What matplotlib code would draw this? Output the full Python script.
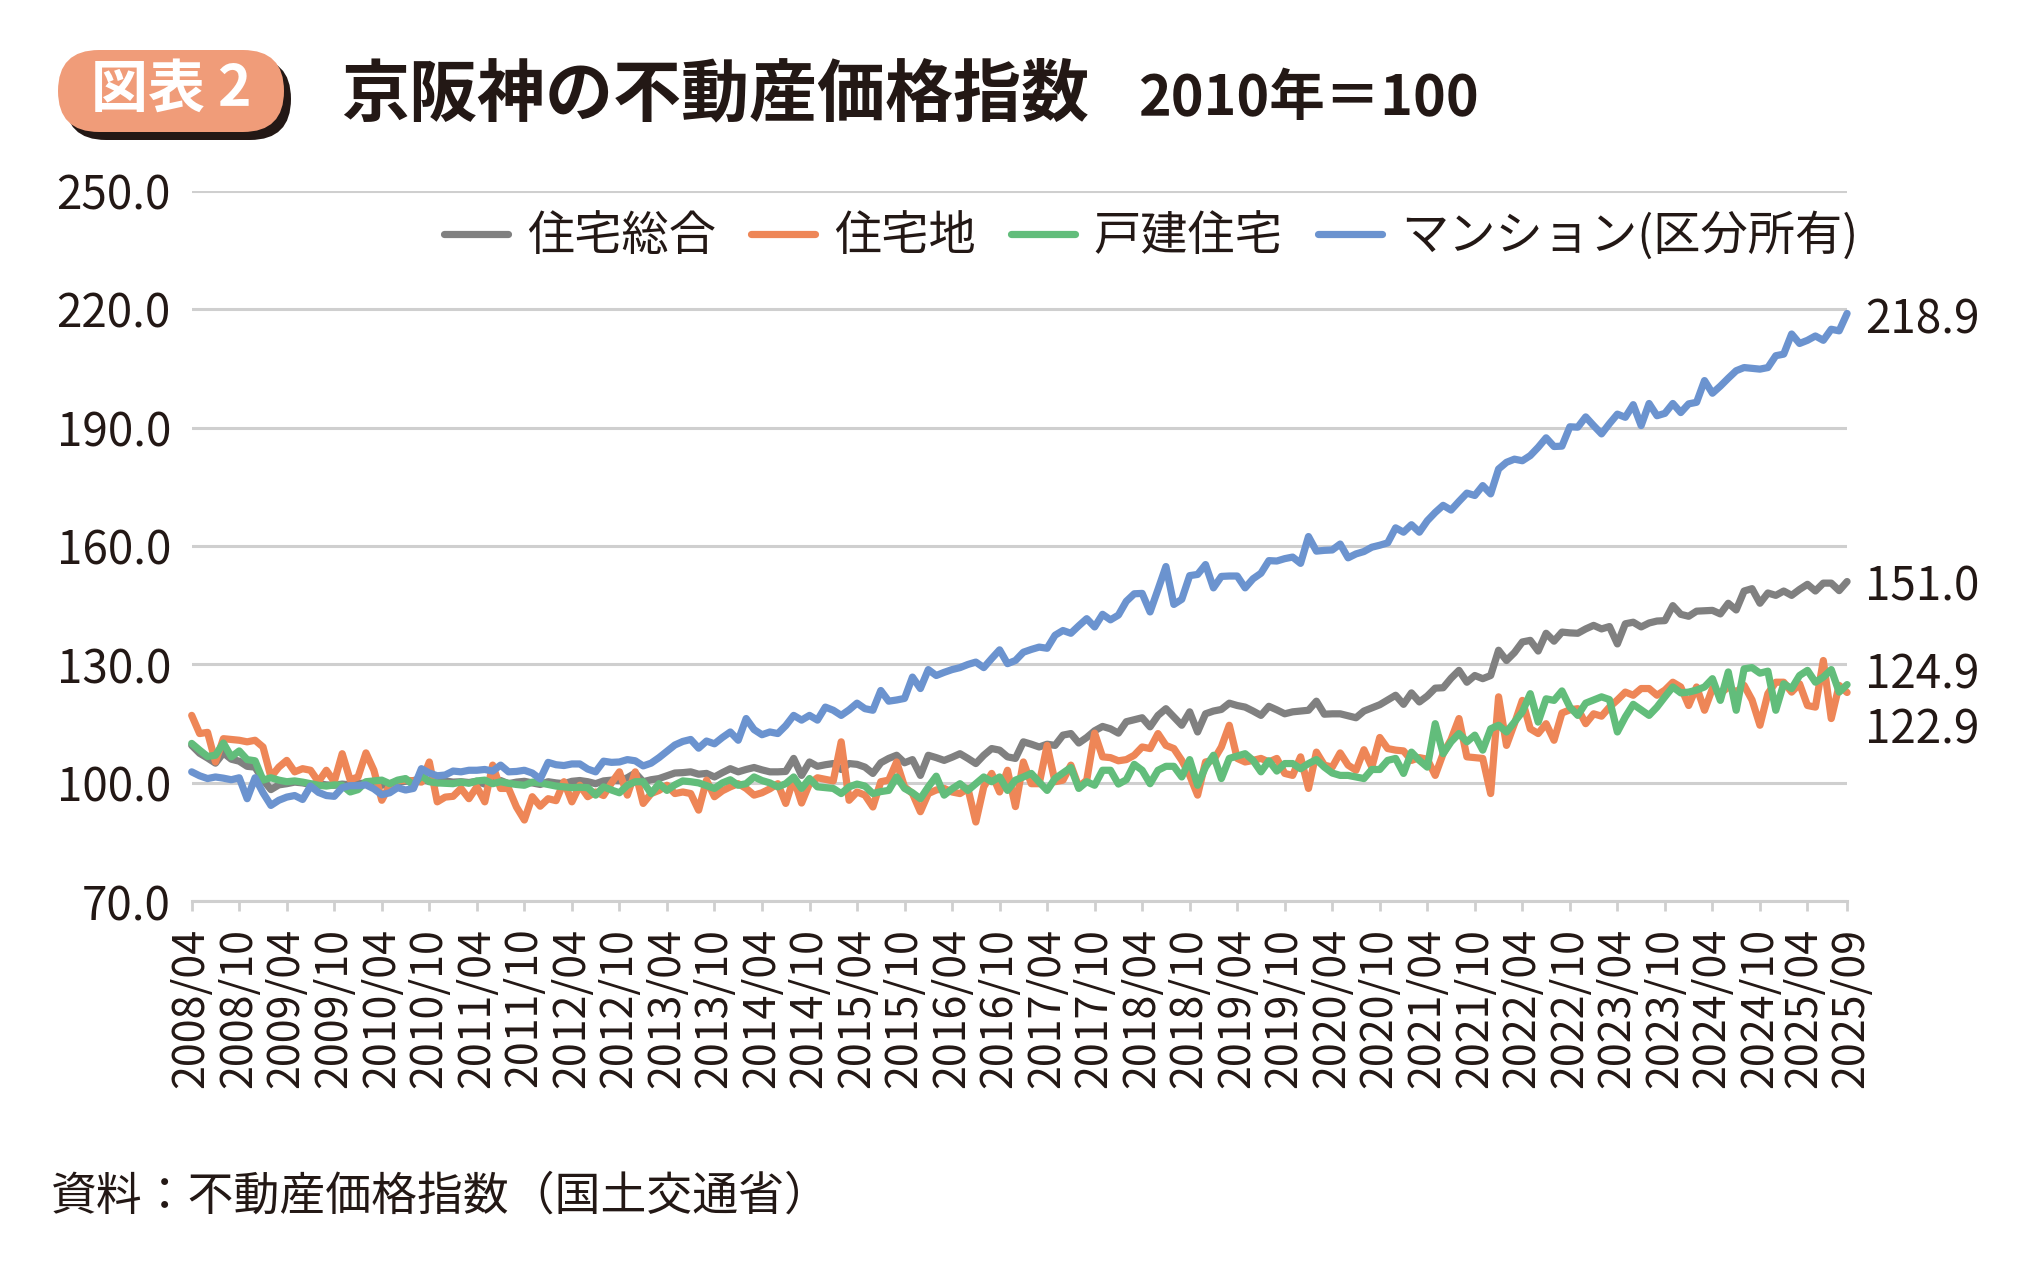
import matplotlib
matplotlib.use("Agg")
import matplotlib.pyplot as plt
import matplotlib.transforms as mtransforms
from matplotlib.patches import FancyBboxPatch

plt.rcParams['font.family'] = ['Noto Sans CJK JP', 'DejaVu Sans']

# 系列名と色（凡例の順）
series_names = ["住宅総合", "住宅地", "戸建住宅", "マンション(区分所有)"]
series_colors = ["#808080", "#EE8657", "#62BD7B", "#6B93CF"]
text_color = "#231815"
grid_color = "#CFCFCF"

# 月次データ 2008/04 - 2025/09（行ごとに暦年）
total = [
    109.5, 107.5, 106.3, 105.0, 107.6, 106.0, 105.5, 104.2, 104.0,
    100.8, 98.3, 99.5, 99.8, 100.2, 100.0, 99.6, 99.8, 99.5, 99.4, 99.7, 99.5,
    99.8, 100.0, 99.6, 99.4, 99.8, 100.2, 100.4, 100.6, 101.0, 100.4, 100.0, 100.5,
    100.2, 100.3, 100.1, 100.4, 99.7, 100.2, 100.6, 99.8, 100.2, 100.4, 100.0, 99.6,
    100.3, 100.0, 99.8, 100.4, 100.6, 100.3, 99.8, 100.5, 100.7, 100.6, 101.3, 102.5,
    100.3, 100.8, 101.1, 101.8, 102.5, 102.6, 102.8, 102.2, 102.4, 101.5, 102.6, 103.6,
    102.8, 103.4, 103.9, 103.3, 102.8, 102.8, 102.9, 106.2, 101.9, 105.3, 104.2, 104.6,
    104.9, 103.4, 104.9, 104.7, 104.0, 102.4, 105.1, 106.2, 107.0, 105.1, 105.9, 101.9,
    107.0, 106.4, 105.7, 106.5, 107.4, 106.2, 104.9, 107.0, 108.7, 108.3, 106.6, 106.2,
    110.4, 109.8, 109.1, 109.8, 109.5, 112.1, 112.5, 110.1, 111.5, 113.2, 114.3, 113.7,
    112.6, 115.5, 116.0, 116.5, 114.2, 117.1, 118.8, 116.7, 114.6, 118.0, 112.9, 117.5,
    118.2, 118.6, 120.2, 119.6, 119.2, 118.2, 117.1, 119.4, 118.5, 117.5, 118.0, 118.2,
    118.4, 120.7, 117.4, 117.5, 117.5, 117.0, 116.5, 118.2, 119.0, 119.8, 121.0, 122.2,
    119.9, 122.8, 120.5, 122.0, 124.0, 124.1, 126.5, 128.5, 125.5, 127.2, 126.4, 127.2,
    133.6, 131.0, 133.0, 135.7, 136.1, 133.4, 137.9, 135.9, 138.2, 138.0, 137.9, 139.0,
    139.9, 139.0, 139.6, 135.2, 140.3, 140.7, 139.5, 140.5, 141.0, 141.1, 144.9, 142.7,
    142.2, 143.5, 143.6, 143.7, 142.8, 145.5, 143.8, 148.6, 149.2, 145.5, 148.1, 147.5,
    148.6, 147.5, 149.0, 150.3, 148.6, 150.6, 150.6, 148.7, 151.0,
]
land = [
    117.1, 112.5, 112.8, 105.3, 111.2, 111.0, 110.8, 110.4, 110.8,
    109.1, 101.5, 104.0, 105.7, 102.8, 103.6, 103.2, 100.3, 103.2, 100.3, 107.4, 100.8,
    101.5, 107.6, 103.2, 95.6, 99.4, 100.5, 100.7, 100.5, 100.2, 105.3, 95.2, 96.4,
    96.6, 98.6, 96.0, 99.0, 95.2, 104.5, 98.6, 98.6, 93.9, 90.6, 96.5, 94.1,
    96.0, 95.5, 100.3, 95.2, 99.4, 96.5, 97.7, 96.8, 100.0, 102.8, 96.9, 102.8,
    94.8, 97.3, 98.1, 99.4, 97.3, 97.7, 97.3, 93.1, 100.7, 96.5, 98.0, 99.0,
    99.8, 98.6, 96.9, 97.5, 98.5, 99.8, 94.8, 101.1, 94.9, 99.8, 101.3, 100.9,
    100.5, 110.4, 95.6, 97.7, 96.9, 93.9, 100.3, 100.7, 105.3, 99.0, 97.3, 92.7,
    97.3, 98.2, 98.6, 97.7, 97.3, 98.6, 90.1, 99.0, 102.4, 97.7, 103.2, 94.0,
    105.3, 99.8, 99.8, 109.5, 100.3, 100.7, 104.5, 99.0, 100.7, 112.6, 106.6, 106.4,
    105.6, 105.9, 107.0, 109.1, 108.7, 112.5, 109.5, 108.7, 105.7, 101.9, 96.9, 105.3,
    105.7, 109.1, 114.6, 106.2, 105.3, 105.7, 106.2, 105.3, 106.2, 102.4, 101.9, 106.6,
    98.6, 107.8, 104.5, 104.0, 107.6, 104.5, 103.2, 108.4, 104.0, 111.5, 108.7, 108.3,
    108.1, 105.7, 106.4, 106.0, 101.9, 107.4, 111.0, 116.3, 106.6, 106.4, 106.2, 97.3,
    121.8, 109.5, 115.0, 120.9, 113.7, 112.5, 115.0, 110.8, 117.7, 118.5, 118.8, 115.0,
    117.5, 116.9, 119.2, 121.0, 123.0, 122.2, 123.9, 123.9, 122.2, 123.5, 125.5, 124.3,
    119.6, 124.3, 118.4, 123.9, 122.6, 124.3, 123.0, 124.7, 121.0, 114.6, 122.6, 125.5,
    125.5, 123.0, 125.1, 119.6, 119.2, 131.0, 116.3, 124.7, 122.9,
]
house = [
    110.0, 108.3, 106.7, 107.0, 110.1, 106.6, 108.1, 105.9, 105.6,
    100.7, 101.3, 100.7, 100.3, 100.5, 100.2, 99.8, 99.4, 99.2, 99.5, 99.4, 97.7,
    98.3, 100.3, 100.5, 100.7, 99.8, 100.7, 101.1, 99.4, 101.9, 100.3, 100.0, 99.9,
    99.8, 100.2, 99.9, 100.5, 100.7, 99.8, 100.3, 99.9, 99.6, 99.4, 100.2, 100.0,
    99.6, 99.2, 99.0, 98.8, 98.9, 98.8, 96.9, 99.0, 98.2, 97.5, 99.4, 100.3,
    100.3, 97.3, 99.8, 98.1, 99.5, 100.5, 100.3, 100.0, 99.3, 98.6, 100.0, 100.8,
    99.4, 99.8, 101.5, 100.6, 100.0, 99.0, 99.8, 101.5, 98.6, 101.1, 99.0, 98.8,
    98.6, 97.3, 99.0, 99.7, 99.2, 97.3, 97.8, 98.1, 101.5, 98.6, 97.5, 96.0,
    99.0, 101.7, 96.9, 98.5, 99.8, 98.1, 99.8, 101.5, 100.3, 101.5, 98.1, 100.7,
    101.5, 102.4, 100.2, 98.1, 101.1, 102.5, 103.9, 98.6, 100.3, 99.4, 103.2, 103.2,
    99.7, 100.8, 104.7, 103.2, 99.8, 103.2, 104.2, 104.2, 101.5, 105.9, 99.4, 104.0,
    107.0, 101.1, 106.2, 106.8, 107.4, 105.7, 102.8, 105.6, 103.0, 104.9, 104.9, 103.6,
    104.9, 105.9, 104.0, 102.5, 101.9, 101.9, 101.5, 101.1, 103.4, 103.4, 105.7, 106.2,
    102.4, 107.8, 105.7, 104.0, 115.0, 107.4, 110.4, 112.5, 110.4, 112.1, 108.3, 113.7,
    114.6, 112.9, 115.4, 118.0, 122.6, 115.4, 121.3, 120.9, 123.3, 119.2, 117.1, 120.2,
    121.0, 121.8, 121.1, 112.9, 116.7, 119.9, 118.5, 117.1, 119.2, 121.8, 124.3, 122.8,
    123.0, 123.5, 124.3, 126.4, 120.9, 128.1, 118.4, 128.9, 129.2, 127.8, 128.3, 118.4,
    125.1, 123.9, 127.2, 128.5, 125.5, 126.8, 128.7, 123.0, 124.9,
]
condo = [
    102.8, 101.8, 101.1, 101.5, 101.2, 100.8, 101.3, 96.0, 101.3,
    97.5, 94.3, 95.6, 96.4, 96.8, 95.8, 99.2, 97.6, 96.8, 96.6, 98.8, 99.3,
    99.3, 99.5, 98.5, 97.0, 97.5, 98.8, 98.2, 98.6, 103.6, 102.5, 101.8, 102.0,
    103.0, 102.8, 103.2, 103.2, 103.4, 103.0, 104.5, 102.8, 102.9, 103.2, 102.5, 101.0,
    105.2, 104.6, 104.4, 104.8, 104.8, 103.5, 102.8, 105.5, 105.2, 105.3, 105.9, 105.6,
    104.3, 105.0, 106.4, 108.0, 109.6, 110.5, 111.0, 108.8, 110.6, 109.9, 111.5, 112.9,
    110.8, 116.3, 113.5, 112.2, 112.9, 112.5, 114.5, 117.1, 115.9, 117.1, 115.9, 119.2,
    118.4, 117.1, 118.5, 120.2, 118.8, 118.4, 123.4, 120.7, 121.0, 121.4, 126.8, 123.9,
    128.7, 127.2, 128.0, 128.7, 129.2, 130.0, 130.6, 129.2, 131.5, 133.7, 130.2, 131.0,
    133.1, 133.8, 134.4, 134.1, 137.4, 138.6, 137.9, 139.8, 141.6, 139.5, 142.7, 141.3,
    142.5, 146.0, 147.9, 148.0, 143.3, 149.0, 154.8, 145.2, 146.5, 152.5, 152.8, 155.3,
    149.4, 152.3, 152.4, 152.4, 149.4, 151.7, 153.1, 156.3, 156.2, 156.8, 157.2, 155.6,
    162.4, 158.7, 158.9, 159.0, 160.5, 157.0, 158.0, 158.6, 159.7, 160.2, 160.8, 164.6,
    163.5, 165.4, 163.5, 166.4, 168.5, 170.3, 169.1, 171.3, 173.4, 172.8, 175.3, 173.2,
    179.5, 181.2, 182.0, 181.6, 182.9, 185.0, 187.4, 185.2, 185.3, 190.2, 190.1, 192.7,
    190.5, 188.4, 191.0, 193.4, 192.6, 195.8, 190.5, 196.1, 193.0, 193.6, 196.1, 193.8,
    196.0, 196.4, 201.9, 198.7, 200.5, 202.5, 204.4, 205.2, 205.0, 204.8, 205.2, 208.2,
    208.6, 213.7, 211.3, 212.1, 213.2, 212.1, 214.9, 214.5, 218.9,
]

tick_labels = [
    "2008/04", "2008/10", "2009/04", "2009/10", "2010/04", "2010/10",
    "2011/04", "2011/10", "2012/04", "2012/10", "2013/04", "2013/10",
    "2014/04", "2014/10", "2015/04", "2015/10", "2016/04", "2016/10",
    "2017/04", "2017/10", "2018/04", "2018/10", "2019/04", "2019/10",
    "2020/04", "2020/10", "2021/04", "2021/10", "2022/04", "2022/10",
    "2023/04", "2023/10", "2024/04", "2024/10", "2025/04", "2025/09",
]
y_ticks = [70, 100, 130, 160, 190, 220, 250]

all_series = [total, land, house, condo]

fig = plt.figure(figsize=(20.18, 12.67), dpi=100)
ax = fig.add_axes([0.0950, 0.2886, 0.8203, 0.5609])

x = list(range(len(total)))
for vals, col, name in zip(all_series, series_colors, series_names):
    ax.plot(x, vals, color=col, lw=5.2, label=name, clip_on=False,
            solid_joinstyle='round', solid_capstyle='round')

ax.set_xlim(0, len(total) - 1)
ax.set_ylim(y_ticks[0], y_ticks[-1])
ax.set_yticks(y_ticks)
ax.set_yticklabels([f"{v:.1f}" for v in y_ticks], fontsize=33, color=text_color)
ax.yaxis.grid(True, color=grid_color, lw=2.2)
ax.set_axisbelow(True)
for s in ['top', 'right', 'left']:
    ax.spines[s].set_visible(False)
ax.spines['bottom'].set_color(grid_color)
ax.spines['bottom'].set_linewidth(2.2)
ax.tick_params(axis='y', length=0, pad=15)

tick_pos = list(range(0, len(total), 6)) + [len(total) - 1]
ax.set_xticks(tick_pos)
ax.set_xticklabels(tick_labels, rotation=90, fontsize=31, color=text_color)
ax.tick_params(axis='x', length=7, width=2, color=grid_color, pad=12)
# 最後の2つのラベルが重ならないよう少しずらす
nudge = [(-2, ax.get_xticklabels()[-2]), (3, ax.get_xticklabels()[-1])]
for dx, lbl in nudge:
    lbl.set_transform(lbl.get_transform() +
                      mtransforms.ScaledTranslation(dx / 72, 0, fig.dpi_scale_trans))

# 右端の数値ラベル
end_series = [condo, total, house, land]
end_dy = [-5, -4, 7, -27]
for vals, dy in zip(end_series, end_dy):
    ax.annotate(f"{vals[-1]:.1f}", xy=(len(vals) - 1, vals[-1]), xytext=(13, dy),
                textcoords='offset points', va='center', ha='left',
                fontsize=33, color=text_color, annotation_clip=False)

# 凡例
leg = fig.legend(loc='center', bbox_to_anchor=(0.5705, 0.813), ncol=4, frameon=False,
                 fontsize=34, handlelength=1.35, handletextpad=0.4, columnspacing=0.75,
                 borderaxespad=0, borderpad=0)
for t in leg.get_texts():
    t.set_color(text_color)

# タイトル
fig.text(341 / 2018, 1 - 96 / 1267, "京阪神の不動産価格指数", fontsize=49,
         fontweight='bold', color=text_color, va='center', ha='left')
fig.text(1138 / 2018, 1 - 99 / 1267, "2010年＝100", fontsize=40,
         fontweight='bold', color=text_color, va='center', ha='left')

# 図表番号のバッジ
bax = fig.add_axes([50 / 2018, 1 - 145 / 1267, 250 / 2018, 105 / 1267])
bax.set_xlim(0, 250)
bax.set_ylim(0, 105)
bax.axis('off')
bax.add_patch(FancyBboxPatch((15, 5), 226, 82, boxstyle="round,pad=0,rounding_size=41",
                             fc=text_color, ec='none'))
bax.add_patch(FancyBboxPatch((8, 13), 226, 82, boxstyle="round,pad=0,rounding_size=41",
                             fc='#F09C79', ec='none'))
bax.text(121, 55, "図表 2", fontsize=41, fontweight='bold', color='white',
         ha='center', va='center')

# 出典
fig.text(51 / 2018, 1 - 1196 / 1267, "資料：不動産価格指数（国土交通省）", fontsize=33,
         color=text_color, va='center', ha='left')

fig.savefig("out.png", dpi=100)
